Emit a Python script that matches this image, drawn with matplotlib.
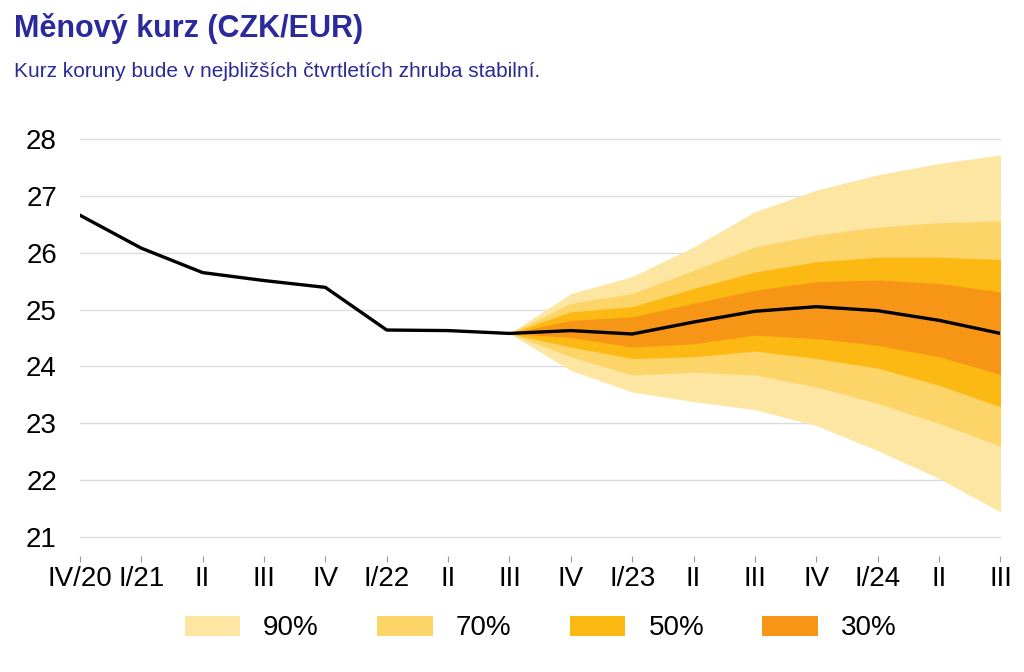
import matplotlib
matplotlib.use("Agg")
import matplotlib.pyplot as plt
from matplotlib.patches import Patch

plt.rcParams['font.family'] = ['Liberation Sans', 'DejaVu Sans']

quarters = ["IV/20", "I/21", "II", "III", "IV", "I/22", "II", "III",
            "IV", "I/23", "II", "III", "IV", "I/24", "II", "III"]

# kurz CZK/EUR, skutecnost + prognoza
rate = [26.66, 26.08, 25.65, 25.51, 25.39, 24.64, 24.63, 24.58,
        24.63, 24.57, 24.78, 24.97, 25.05, 24.98, 24.81, 24.58]

# pasy nejistoty od III/22 dale
fan_start = 7
upper_90 = [24.58, 25.28, 25.58, 26.10, 26.72, 27.10, 27.37, 27.57, 27.72]
upper_70 = [24.58, 25.11, 25.28, 25.69, 26.10, 26.31, 26.45, 26.53, 26.56]
upper_50 = [24.58, 24.96, 25.05, 25.37, 25.66, 25.84, 25.92, 25.92, 25.88]
upper_30 = [24.58, 24.81, 24.87, 25.11, 25.34, 25.49, 25.52, 25.46, 25.31]
lower_30 = [24.58, 24.51, 24.34, 24.40, 24.55, 24.49, 24.37, 24.17, 23.86]
lower_50 = [24.58, 24.34, 24.14, 24.17, 24.27, 24.14, 23.97, 23.67, 23.29]
lower_70 = [24.58, 24.17, 23.85, 23.90, 23.85, 23.64, 23.35, 23.00, 22.60]
lower_90 = [24.58, 23.93, 23.55, 23.38, 23.24, 22.96, 22.52, 22.03, 21.44]

band_labels = ["90%", "70%", "50%", "30%"]
band_colors = ["#FDE5A2", "#FCD468", "#FDB913", "#F79616"]

x = list(range(len(quarters)))
xf = x[fan_start:]

fig = plt.figure(figsize=(10.24, 6.72), dpi=100)
ax = fig.add_axes([0.078, 0.2009, 0.899, 0.5923])

bands = [(lower_90, upper_90), (lower_70, upper_70),
         (lower_50, upper_50), (lower_30, upper_30)]
for (lo, hi), col in zip(bands, band_colors):
    ax.fill_between(xf, lo, hi, color=col, linewidth=0, zorder=2)

ax.plot(x, rate, color="black", linewidth=2.4, zorder=3)

ax.set_xlim(0, len(quarters) - 1)
ax.set_ylim(21, 28)
ax.set_yticks(range(21, 29))
ax.set_xticks(x)
ax.set_xticklabels(quarters)
ax.grid(axis="y", color="#dcdcdc", linewidth=1, zorder=0)
for gl in ax.get_ygridlines():
    gl.set_clip_on(False)
for s in ax.spines.values():
    s.set_visible(False)
# ticks sit a bit below the bottom gridline, like in the original
ax.spines["bottom"].set_position(("outward", 14))
ax.tick_params(axis="y", length=0, pad=16.5, labelsize=20)
ax.tick_params(axis="x", length=4, color="#999999", pad=3, labelsize=20)

fig.text(0.014, 0.958, "Měnový kurz (CZK/EUR)", fontsize=22, fontweight="bold",
         color="#2a2a9c", va="center")
fig.text(0.014, 0.894, "Kurz koruny bude v nejbližších čtvrtletích zhruba stabilní.",
         fontsize=15, color="#2b2b95", va="center")

handles = [Patch(facecolor=c, edgecolor="none") for c in band_colors]
fig.legend(handles, band_labels, loc="center", bbox_to_anchor=(0.528, 0.065),
           ncol=4, frameon=False, fontsize=20, handlelength=2.0,
           handleheight=0.72, handletextpad=0.83, columnspacing=2.1)

fig.savefig("out.png", dpi=100)
